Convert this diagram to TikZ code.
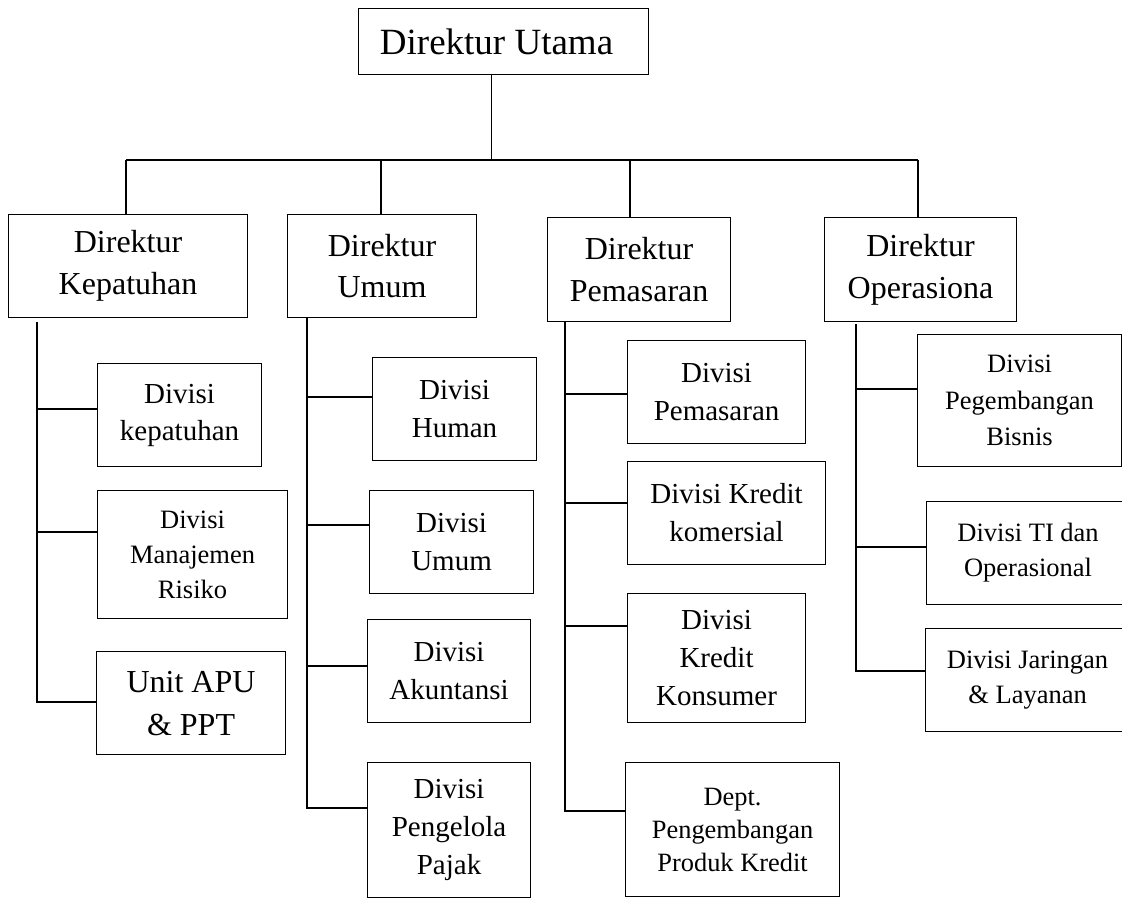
\documentclass[tikz,border=0pt]{standalone}
\usepackage{fontspec}
\setmainfont{Liberation Serif}
\begin{document}
\begin{tikzpicture}[x=1pt,y=-1pt,
  box/.style={draw, line width=1.1pt, inner sep=0pt, align=center, anchor=north west},
  con/.style={line width=1.6pt},
  fdir/.style={font=\fontsize{32}{41.7}\selectfont},
  fdiv/.style={font=\fontsize{29}{37}\selectfont},
  fdivb/.style={font=\fontsize{29}{38}\selectfont},
  fsml/.style={font=\fontsize{26.5}{35}\selectfont},
  fsmlb/.style={font=\fontsize{26.5}{36.7}\selectfont},
  fdept/.style={font=\fontsize{26.4}{33}\selectfont},
  fbig/.style={font=\fontsize{32}{43}\selectfont}]
\useasboundingbox (0,0) rectangle (1122,898);
\clip (0,0) rectangle (1122,898);

% top
\node[box, font=\fontsize{37}{44}\selectfont, minimum width=290pt, minimum height=66pt] (top) at (358,8) {\hspace*{-14pt}Direktur Utama};

% directors
\node[box, fdir, minimum width=239pt, minimum height=103pt] (kep) at (8,214) {Direktur\\Kepatuhan};
\node[box, fdir, minimum width=189pt, minimum height=103pt] (umm) at (287,214) {Direktur\\Umum};
\node[box, fdir, minimum width=183pt, minimum height=104pt] (pem) at (547,217) {Direktur\\Pemasaran};
\node[box, fdir, minimum width=192pt, minimum height=104pt] (ops) at (824,217) {Direktur\\Operasiona};

% Kepatuhan divisions
\node[box, fdiv, minimum width=164pt, minimum height=103pt] (dk) at (97,363) {Divisi\\kepatuhan};
\node[box, fsml, minimum width=190pt, minimum height=128pt] (dmr) at (97,490) {Divisi\\Manajemen\\Risiko};
\node[box, fbig, minimum width=189pt, minimum height=103pt] (apu) at (96,651) {Unit APU\\\& PPT};

% Umum divisions
\node[box, fdivb, minimum width=164pt, minimum height=103pt] (dh) at (372,357) {Divisi\\Human};
\node[box, fdivb, minimum width=164pt, minimum height=103pt] (du) at (369,490) {Divisi\\Umum};
\node[box, fdivb, minimum width=163pt, minimum height=103pt] (dak) at (367,619) {Divisi\\Akuntansi};
\node[box, fdivb, minimum width=163pt, minimum height=135pt] (dpj) at (367,762) {Divisi\\Pengelola\\Pajak};

% Pemasaran divisions
\node[box, fdivb, minimum width=178pt, minimum height=103pt] (dpm) at (627,340) {Divisi\\Pemasaran};
\node[box, fdivb, minimum width=198pt, minimum height=103pt] (dkk) at (627,461) {Divisi Kredit\\komersial};
\node[box, fdivb, minimum width=178pt, minimum height=129pt] (dkn) at (627,593) {Divisi\\Kredit\\Konsumer};
\node[box, fdept, minimum width=214pt, minimum height=134pt] (dpt) at (625,762) {Dept.\\Pengembangan\\Produk Kredit};

% Operasional divisions
\node[box, fsmlb, minimum width=204pt, minimum height=132pt] (dpb) at (917,334) {Divisi\\Pegembangan\\Bisnis};
\node[box, fsml, minimum width=203pt, minimum height=103pt] (dti) at (926,501) {Divisi TI dan\\Operasional};
\node[box, fsml, minimum width=204pt, minimum height=103pt] (djl) at (925,628) {Divisi Jaringan\\\& Layanan};

% top connectors
\coordinate (bus) at (491.5,160);
\coordinate (busL) at (126,160);
\coordinate (busR) at (918,160);
\coordinate (d2) at (381,160);
\coordinate (d3) at (630,160);
\draw[con] (top.south -| bus) -- (bus);
\draw[con] (busL) -- (busR);
\draw[con] (busL) -- (busL |- kep.north);
\draw[con] (d2) -- (d2 |- umm.north);
\draw[con] (d3) -- (d3 |- pem.north);
\draw[con] (busR) -- (busR |- ops.north);

% Kepatuhan trunk
\coordinate (kt1) at (37,409);
\coordinate (kt2) at (37,532);
\coordinate (kt3) at (37,702);
\draw[con] ([yshift=-4pt]kep.south -| kt1) -- (kt3) -- (kt3 -| apu.west);
\draw[con] (kt1) -- (kt1 -| dk.west);
\draw[con] (kt2) -- (kt2 -| dmr.west);

% Umum trunk
\coordinate (ut1) at (307,397);
\coordinate (ut2) at (307,525);
\coordinate (ut3) at (307,666);
\coordinate (ut4) at (307,808);
\draw[con] (umm.south -| ut1) -- (ut4) -- (ut4 -| dpj.west);
\draw[con] (ut1) -- (ut1 -| dh.west);
\draw[con] (ut2) -- (ut2 -| du.west);
\draw[con] (ut3) -- (ut3 -| dak.west);

% Pemasaran trunk
\coordinate (pt1) at (565,394);
\coordinate (pt2) at (565,503);
\coordinate (pt3) at (565,626);
\coordinate (pt4) at (565,811);
\draw[con] (pem.south -| pt1) -- (pt4) -- (pt4 -| dpt.west);
\draw[con] (pt1) -- (pt1 -| dpm.west);
\draw[con] (pt2) -- (pt2 -| dkk.west);
\draw[con] (pt3) -- (pt3 -| dkn.west);

% Operasional trunk
\coordinate (ot1) at (856,389);
\coordinate (ot2) at (856,547);
\coordinate (ot3) at (856,671);
\draw[con] ([yshift=-2pt]ops.south -| ot1) -- (ot3) -- (ot3 -| djl.west);
\draw[con] (ot1) -- (ot1 -| dpb.west);
\draw[con] (ot2) -- (ot2 -| dti.west);
\end{tikzpicture}
\end{document}
